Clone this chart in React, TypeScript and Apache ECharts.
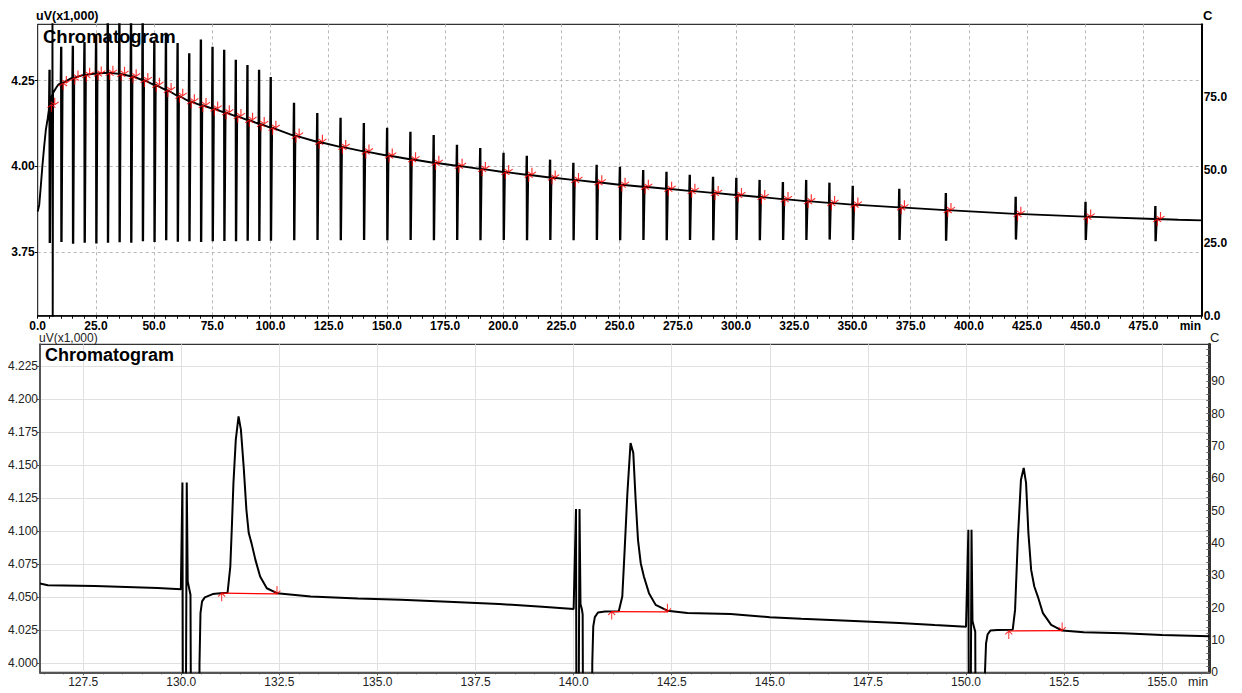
import React, { useEffect, useRef } from "react";
import * as echarts from "echarts";

// ---------------- upper panel (whole run, 0–500 min) ----------------
const upperStart: [number, number][] = [
  [0, 3.869], [0.65, 3.888], [1.3, 3.94], [2.0, 4.0], [2.8, 4.06], [3.5, 4.107], [4.3, 4.14], [4.8, 4.165],
];
const upperGlitch: [number, number][] = [
  [5.9, 4.2], [6.3, 4.212], [6.35, 4.5], [6.45, 3.5], [6.6, 4.214], [7.8, 4.228], [8.8, 4.238],
];
const upperEnd: [number, number][] = [[490, 3.845], [500, 3.843]];

const pulseTimes = [
  5, 10, 15, 20, 25, 30, 35, 40, 45, 50, 55, 60, 65, 70, 75, 80, 85, 90, 95, 100,
  110, 120, 130, 140, 150, 160, 170, 180, 190, 200, 210, 220, 230, 240, 250, 260, 270, 280, 290, 300,
  310, 320, 330, 340, 350, 370, 390, 420, 450, 480,
];
const pulseBase = [
  4.18, 4.243, 4.259, 4.267, 4.271, 4.273, 4.27, 4.263, 4.252, 4.238, 4.223, 4.206, 4.19, 4.179, 4.169, 4.158, 4.147, 4.136, 4.124, 4.113,
  4.09, 4.072, 4.057, 4.044, 4.032, 4.021, 4.011, 4.002, 3.993, 3.984, 3.976, 3.968, 3.961, 3.954, 3.947, 3.941, 3.935, 3.929, 3.923, 3.917,
  3.911, 3.905, 3.899, 3.894, 3.889, 3.881, 3.873, 3.862, 3.854, 3.847,
];
const pulseHigh = [
  4.282, 4.349, 4.352, 4.363, 4.384, 4.45, 4.45, 4.45, 4.45, 4.367, 4.39, 4.36, 4.33, 4.37, 4.349, 4.34, 4.311, 4.296, 4.282, 4.261,
  4.186, 4.156, 4.142, 4.127, 4.113, 4.101, 4.092, 4.063, 4.054, 4.04, 4.031, 4.02, 4.011, 4.005, 3.999, 3.99, 3.985, 3.976, 3.97, 3.967,
  3.961, 3.955, 3.961, 3.953, 3.944, 3.935, 3.923, 3.912, 3.897, 3.885,
];
const pulseLow = [
  3.777, 3.78, 3.775, 3.778, 3.776, 3.778, 3.779, 3.778, 3.782, 3.78, 3.785, 3.781, 3.782, 3.78, 3.782, 3.783, 3.782, 3.784, 3.783, 3.784,
  3.785, 3.786, 3.785, 3.786, 3.785, 3.786, 3.785, 3.786, 3.785, 3.786, 3.785, 3.786, 3.785, 3.786, 3.785, 3.786, 3.785, 3.786, 3.785, 3.786,
  3.785, 3.786, 3.786, 3.787, 3.786, 3.786, 3.784, 3.787, 3.786, 3.782,
];
const MARK_START = 0.9;
const MARK_END = 2.3;

const upperXLabels = { min: 0, max: 500, step: 25 };
const upperYLabels = [3.75, 4.0, 4.25];
const upperCLabels = [0, 25, 50, 75];

// ---------------- lower panel (zoom 126.4–156.2 min) ----------------
const lowerBaselineA: [number, number][] = [
  [126.4, 4.0605], [126.6, 4.0592], [127.0, 4.059], [127.8, 4.0586], [128.6, 4.0578], [129.4, 4.057], [129.99, 4.0562],
];
const lowerInject1: [number, number][] = [
  [130.03, 4.137], [130.045, 3.9], [130.11, 3.9], [130.14, 4.137], [130.165, 4.062], [130.2, 4.057], [130.235, 4.052],
  [130.255, 3.9], [130.45, 3.9], [130.465, 4.0], [130.49, 4.038], [130.53, 4.047], [130.6, 4.05], [130.8, 4.0525],
  [131.0, 4.0532], [131.18, 4.0535],
];
const lowerPeak1: [number, number][] = [
  [131.25, 4.0733], [131.29, 4.1037], [131.33, 4.1367], [131.39, 4.1696], [131.46, 4.1872], [131.52, 4.1771],
  [131.59, 4.1493], [131.66, 4.1164], [131.72, 4.0987], [131.79, 4.0911], [131.89, 4.0784], [132.01, 4.0658],
  [132.18, 4.0569], [132.44, 4.0532],
];
const lowerBaselineB: [number, number][] = [
  [133.3, 4.0506], [134.5, 4.0492], [135.6, 4.0481], [136.8, 4.0466], [138.1, 4.045], [139.2, 4.0428], [140.0, 4.0412],
];
const lowerInject2: [number, number][] = [
  [140.06, 4.117], [140.075, 3.9], [140.12, 3.9], [140.15, 4.117], [140.175, 4.045], [140.21, 4.041], [140.23, 4.037],
  [140.245, 3.9], [140.46, 3.9], [140.475, 4.0], [140.5, 4.028], [140.54, 4.035], [140.62, 4.0385], [140.8, 4.0392],
  [141.15, 4.0395],
];
const lowerPeak2: [number, number][] = [
  [141.24, 4.0506], [141.3, 4.086], [141.37, 4.1291], [141.45, 4.167], [141.52, 4.1595], [141.58, 4.124],
  [141.64, 4.0936], [141.71, 4.0759], [141.79, 4.0658], [141.92, 4.0532], [142.09, 4.0443], [142.39, 4.0399],
];
const lowerBaselineC: [number, number][] = [
  [142.9, 4.0382], [144.0, 4.0374], [145.0, 4.035], [145.8, 4.0337], [147.0, 4.0322], [148.3, 4.0306], [149.2, 4.029], [150.0, 4.0278],
];
const lowerInject3: [number, number][] = [
  [150.06, 4.1012], [150.075, 3.9], [150.11, 3.9], [150.14, 4.1012], [150.165, 4.032], [150.2, 4.028], [150.235, 4.024],
  [150.25, 3.9], [150.47, 3.9], [150.485, 3.995], [150.51, 4.015], [150.55, 4.022], [150.62, 4.0248], [150.8, 4.0252],
  [151.19, 4.0255],
];
const lowerPeak3: [number, number][] = [
  [151.25, 4.0405], [151.32, 4.0936], [151.4, 4.1392], [151.47, 4.1481], [151.53, 4.1367], [151.59, 4.0987],
  [151.66, 4.0708], [151.74, 4.0582], [151.83, 4.0506], [151.96, 4.038], [152.17, 4.0291], [152.45, 4.0248],
];
const lowerBaselineD: [number, number][] = [[153.0, 4.0236], [154.0, 4.0228], [155.0, 4.0215], [156.2, 4.0205]];

const lowerMarkStart: [number, number][] = [[131.03, 4.0532], [140.97, 4.0392], [151.09, 4.0245]];
const lowerMarkEnd: [number, number][] = [[132.44, 4.0526], [142.39, 4.039], [152.45, 4.0248]];

const lowerXLabels = [127.5, 130, 132.5, 135, 137.5, 140, 142.5, 145, 147.5, 150, 152.5, 155];
const lowerYLabels = [4.0, 4.025, 4.05, 4.075, 4.1, 4.125, 4.15, 4.175, 4.2, 4.225];
const lowerCLabels = [0, 10, 20, 30, 40, 50, 60, 70, 80, 90];

const FONT = "'Liberation Sans', Arial, Helvetica, sans-serif";
const UP_ARROW = "path://M5,0L5,12M1,5L5,0L9,5";
const DOWN_ARROW = "path://M5,12L5,0M1,7L5,12L9,7";

function buildUpper(): [number, number][] {
  const pts: [number, number][] = [...upperStart, ...upperGlitch, ...upperEnd];
  pulseTimes.forEach((p, i) => {
    const b = pulseBase[i];
    const h = pulseHigh[i];
    const l = pulseLow[i];
    pts.push([p - 0.15, b], [p, h], [p + 0.1, l], [p + 0.2, h], [p + 0.3, l], [p + 0.7, b]);
  });
  pts.sort((a, b) => a[0] - b[0]);
  return pts;
}

export default function App() {
  const ref = useRef<HTMLDivElement>(null);
  useEffect(() => {
    if (!ref.current) return;
    const chart = echarts.init(ref.current, null, { renderer: "svg" });

    const lowerTrace = [
      ...lowerBaselineA, ...lowerInject1, ...lowerPeak1, ...lowerBaselineB, ...lowerInject2, ...lowerPeak2,
      ...lowerBaselineC, ...lowerInject3, ...lowerPeak3, ...lowerBaselineD,
    ];
    const lowerMinorTicks: number[] = [];
    for (let v = 126.5; v <= 156.01; v += 0.5) lowerMinorTicks.push(Math.round(v * 10) / 10);
    const lowerCTicks: number[] = [];
    for (let v = 0; v <= 100; v += 2) lowerCTicks.push(v);

    const boldLabel = { fontFamily: FONT, fontWeight: "bold" as const, fontSize: 12, color: "#000" };
    const regLabel = { fontFamily: FONT, fontSize: 12, color: "#222" };

    const txt = (text: string, x: number, y: number, font: string, align = "left", fill = "#000") => ({
      type: "text",
      x,
      y,
      z: 100,
      style: { text, font, fill, align, verticalAlign: "middle", textAlign: align, textVerticalAlign: "middle" },
    });

    const option: any = {
      animation: false,
      backgroundColor: "#fff",
      grid: [
        { left: 37.7, top: 24.3, width: 1164, height: 291.4, show: true, borderColor: "#000", borderWidth: 1 },
        { left: 40, top: 344.3, width: 1169.3, height: 328, show: true, borderColor: "#000", borderWidth: 1 },
      ],
      xAxis: [
        {
          type: "value",
          gridIndex: 0,
          min: upperXLabels.min,
          max: upperXLabels.max,
          interval: upperXLabels.step,
          axisLine: { show: true, onZero: false, lineStyle: { color: "#000", width: 1.5 } },
          axisTick: { show: true, length: 3, lineStyle: { color: "#000" } },
          minorTick: { show: true, splitNumber: 5, length: 3, lineStyle: { color: "#000" } },
          axisLabel: { ...boldLabel, margin: 4, showMaxLabel: false, formatter: (v: number) => v.toFixed(1) },
          splitLine: { show: true, lineStyle: { color: "#b8b8b8", type: [3, 3], width: 1 } },
        },
        {
          type: "value",
          gridIndex: 1,
          min: 126.4,
          max: 156.2,
          position: "bottom",
          axisLine: { show: true, onZero: false, lineStyle: { color: "#555", width: 2 } },
          axisTick: { show: true, length: 3, customValues: lowerXLabels, lineStyle: { color: "#555" } },
          axisLabel: { ...regLabel, margin: 4, customValues: lowerXLabels, formatter: (v: number) => v.toFixed(1) },
          splitLine: { show: true, lineStyle: { color: "#e0e0e0", width: 1 } },
        },
        {
          type: "value",
          gridIndex: 1,
          min: 126.4,
          max: 156.2,
          position: "bottom",
          axisLine: { show: false },
          axisTick: { show: true, length: 2, customValues: lowerMinorTicks, lineStyle: { color: "#555" } },
          axisLabel: { show: false },
          splitLine: { show: false },
        },
      ],
      yAxis: [
        {
          type: "value",
          gridIndex: 0,
          min: 3.5653,
          max: 4.4143,
          position: "left",
          axisLine: { show: true, onZero: false, lineStyle: { color: "#333", width: 1 } },
          axisTick: { show: true, length: 3, customValues: upperYLabels, lineStyle: { color: "#000" } },
          axisLabel: { ...boldLabel, margin: 3, customValues: upperYLabels, formatter: (v: number) => v.toFixed(2) },
          splitLine: { show: true, lineStyle: { color: "#b8b8b8", type: [3, 3], width: 1 } },
        },
        {
          type: "value",
          gridIndex: 0,
          min: 0,
          max: 100,
          position: "right",
          axisLine: { show: true, onZero: false, lineStyle: { color: "#000", width: 2 } },
          axisTick: { show: false, customValues: upperCLabels },
          axisLabel: { ...boldLabel, margin: 2, customValues: upperCLabels, formatter: (v: number) => v.toFixed(1) },
          splitLine: { show: false },
        },
        {
          type: "value",
          gridIndex: 1,
          min: 3.9932,
          max: 4.2418,
          position: "left",
          axisLine: { show: true, onZero: false, lineStyle: { color: "#555", width: 2 } },
          axisTick: { show: true, length: 3, customValues: lowerYLabels, lineStyle: { color: "#555" } },
          axisLabel: { ...regLabel, margin: 2, customValues: lowerYLabels, formatter: (v: number) => v.toFixed(3) },
          splitLine: { show: true, lineStyle: { color: "#e0e0e0", width: 1 } },
        },
        {
          type: "value",
          gridIndex: 1,
          min: 0,
          max: 101.4,
          position: "right",
          axisLine: { show: true, onZero: false, lineStyle: { color: "#333", width: 3 } },
          axisTick: { show: true, inside: true, length: 3, customValues: lowerCTicks, lineStyle: { color: "#666" } },
          axisLabel: { ...regLabel, margin: 2, customValues: lowerCLabels, formatter: (v: number) => String(v) },
          splitLine: { show: false },
        },
      ],
      series: [
        {
          type: "line",
          xAxisIndex: 0,
          yAxisIndex: 0,
          data: buildUpper(),
          showSymbol: false,
          symbol: "none",
          lineStyle: { color: "#000", width: 1.9 },
          z: 2,
        },
        {
          type: "scatter",
          xAxisIndex: 0,
          yAxisIndex: 0,
          data: pulseTimes.map((p, i) => [p + MARK_START, pulseBase[i]]),
          symbol: UP_ARROW,
          symbolSize: [8, 7],
          symbolOffset: [0, "50%"],
          itemStyle: { color: "transparent", borderColor: "#ff0000", borderWidth: 1.1 },
          z: 5,
        },
        {
          type: "scatter",
          xAxisIndex: 0,
          yAxisIndex: 0,
          data: pulseTimes.map((p, i) => [p + MARK_END, pulseBase[i]]),
          symbol: DOWN_ARROW,
          symbolSize: [8, 7],
          symbolOffset: [0, "-50%"],
          itemStyle: { color: "transparent", borderColor: "#ff0000", borderWidth: 1.1 },
          z: 5,
        },
        {
          type: "line",
          xAxisIndex: 1,
          yAxisIndex: 2,
          data: lowerTrace,
          showSymbol: false,
          symbol: "none",
          lineStyle: { color: "#000", width: 2 },
          z: 2,
        },
        ...lowerMarkStart.map((s, i) => ({
          type: "line",
          xAxisIndex: 1,
          yAxisIndex: 2,
          data: [s, lowerMarkEnd[i]],
          showSymbol: false,
          symbol: "none",
          lineStyle: { color: "#ff0000", width: 1.2 },
          z: 4,
        })),
        {
          type: "scatter",
          xAxisIndex: 1,
          yAxisIndex: 2,
          data: lowerMarkStart,
          symbol: UP_ARROW,
          symbolSize: [7, 8],
          symbolOffset: [0, "50%"],
          itemStyle: { color: "transparent", borderColor: "#ff0000", borderWidth: 1.1 },
          z: 5,
        },
        {
          type: "scatter",
          xAxisIndex: 1,
          yAxisIndex: 2,
          data: lowerMarkEnd,
          symbol: DOWN_ARROW,
          symbolSize: [7, 8],
          symbolOffset: [0, "-50%"],
          itemStyle: { color: "transparent", borderColor: "#ff0000", borderWidth: 1.1 },
          z: 5,
        },
      ],
      graphic: [
        txt("uV(x1,000)", 36, 15.7, `bold 12.5px ${FONT}`),
        txt("C", 1203, 15.5, `bold 13px ${FONT}`),
        txt("Chromatogram", 43, 36, `bold 18.5px ${FONT}`),
        txt("min", 1201, 326, `bold 12px ${FONT}`, "right"),
        txt("uV(x1,000)", 39, 338, `12px ${FONT}`, "left", "#222"),
        txt("Chromatogram", 45, 354.5, `bold 18px ${FONT}`),
        txt("C", 1210, 337.5, `13px ${FONT}`, "left", "#222"),
        txt("min", 1188, 681.5, `12.5px ${FONT}`, "left", "#222"),
      ],
    };

    chart.setOption(option);
    return () => chart.dispose();
  }, []);

  return (
    <div
      ref={ref}
      style={{ position: "fixed", left: 0, top: 0, width: 1242, height: 693, background: "#fff" }}
    />
  );
}
